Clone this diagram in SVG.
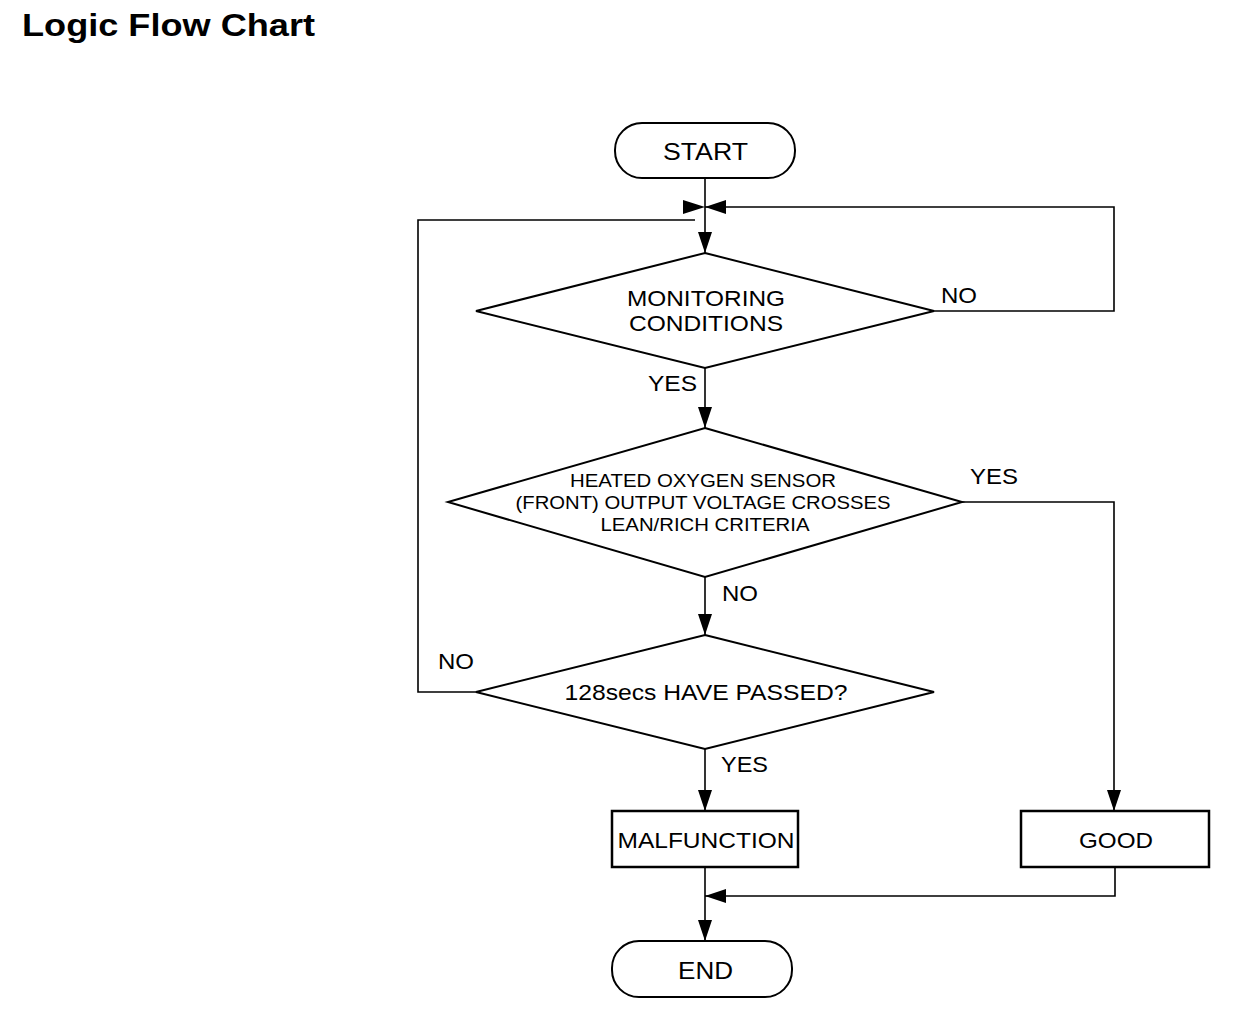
<svg xmlns="http://www.w3.org/2000/svg" width="1248" height="1022" viewBox="0 0 1248 1022">
<style>
.shape{fill:#fff;stroke:#000;stroke-width:2}
.box{fill:#fff;stroke:#000;stroke-width:2.5}
.ln{fill:none;stroke:#000;stroke-width:1.6}
.t{font-family:"Liberation Sans",Arial,sans-serif;font-size:22px;fill:#000;text-anchor:middle}
.lbl{font-family:"Liberation Sans",Arial,sans-serif;font-size:22px;fill:#000}
.sm{font-family:"Liberation Sans",Arial,sans-serif;font-size:19px;fill:#000;text-anchor:middle}
</style>
<defs>
<marker id="ah" markerUnits="userSpaceOnUse" markerWidth="22" markerHeight="16" refX="21" refY="7" orient="auto" viewBox="0 0 22 14">
<path d="M0,0 L21,7 L0,14 Z" fill="#000"/>
</marker>
</defs>
<rect width="1248" height="1022" fill="#fff"/>
<text x="22" y="36" textLength="293" lengthAdjust="spacingAndGlyphs" style="font-family:'Liberation Sans',Arial,sans-serif;font-size:31px;font-weight:bold">Logic Flow Chart</text>
<g id="connectors">
<line class="ln" x1="705" y1="178" x2="705" y2="253" marker-end="url(#ah)"/>
<polyline class="ln" points="476,692 418,692 418,220 695,220"/>
<path d="M683,200 L705,207 L683,214 Z" fill="#000"/>
<polyline class="ln" points="934,311 1114,311 1114,207 705,207" marker-end="url(#ah)"/>
<line class="ln" x1="705" y1="368" x2="705" y2="428" marker-end="url(#ah)"/>
<polyline class="ln" points="962,502 1114,502 1114,811" marker-end="url(#ah)"/>
<line class="ln" x1="705" y1="577" x2="705" y2="635" marker-end="url(#ah)"/>
<line class="ln" x1="705" y1="749" x2="705" y2="811" marker-end="url(#ah)"/>
<line class="ln" x1="705" y1="867" x2="705" y2="941" marker-end="url(#ah)"/>
<polyline class="ln" points="1115,867 1115,896 705,896" marker-end="url(#ah)"/>
<text class="lbl" x="941" y="303" textLength="36" lengthAdjust="spacingAndGlyphs">NO</text>
<text class="lbl" x="648" y="391" textLength="49" lengthAdjust="spacingAndGlyphs">YES</text>
<text class="lbl" x="970" y="484" textLength="48" lengthAdjust="spacingAndGlyphs">YES</text>
<text class="lbl" x="722" y="601" textLength="36" lengthAdjust="spacingAndGlyphs">NO</text>
<text class="lbl" x="438" y="669" textLength="36" lengthAdjust="spacingAndGlyphs">NO</text>
<text class="lbl" x="721" y="772" textLength="47" lengthAdjust="spacingAndGlyphs">YES</text>
</g>
<g id="start">
<rect class="shape" x="615" y="123" width="180" height="55" rx="27" ry="27"/>
<text class="t" x="705.5" y="160" style="font-size:24px" textLength="85" lengthAdjust="spacingAndGlyphs">START</text>
</g>
<g id="monitoring">
<polygon class="shape" points="705,253 934,311 705,368 476,311"/>
<text class="t" x="706" y="306" textLength="158" lengthAdjust="spacingAndGlyphs">MONITORING</text>
<text class="t" x="706" y="331" textLength="154" lengthAdjust="spacingAndGlyphs">CONDITIONS</text>
</g>
<g id="sensor">
<polygon class="shape" points="705,428 962,502 705,577 448,502"/>
<text class="sm" x="703" y="487" textLength="266" lengthAdjust="spacingAndGlyphs">HEATED OXYGEN SENSOR</text>
<text class="sm" x="703" y="509" textLength="375" lengthAdjust="spacingAndGlyphs">(FRONT) OUTPUT VOLTAGE CROSSES</text>
<text class="sm" x="705" y="531" textLength="209" lengthAdjust="spacingAndGlyphs">LEAN/RICH CRITERIA</text>
</g>
<g id="passed">
<polygon class="shape" points="705,635 934,692 705,749 476,692"/>
<text class="t" x="706" y="700" textLength="283" lengthAdjust="spacingAndGlyphs">128secs HAVE PASSED?</text>
</g>
<g id="malfunction">
<rect class="box" x="612" y="811" width="186" height="56"/>
<text class="t" x="706" y="848" textLength="177" lengthAdjust="spacingAndGlyphs">MALFUNCTION</text>
</g>
<g id="good">
<rect class="box" x="1021" y="811" width="188" height="56"/>
<text class="t" x="1116" y="848" textLength="74" lengthAdjust="spacingAndGlyphs">GOOD</text>
</g>
<g id="end">
<rect class="shape" x="612" y="941" width="180" height="56" rx="27" ry="27"/>
<text class="t" x="705.5" y="979" style="font-size:24px" textLength="55" lengthAdjust="spacingAndGlyphs">END</text>
</g>
</svg>
